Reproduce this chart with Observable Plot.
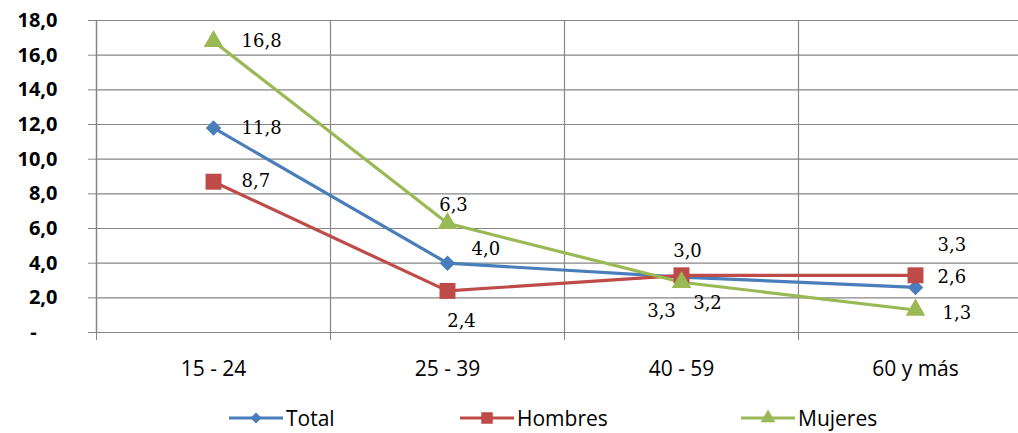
<!DOCTYPE html>
<html>
<head>
<meta charset="utf-8">
<script src="https://cdn.jsdelivr.net/npm/d3@7"></script>
<script src="https://cdn.jsdelivr.net/npm/@observablehq/plot@0.6"></script>
<style>
  body { margin: 0; background: #fff; width: 1018px; height: 433px; overflow: hidden; }
  #chart { position: relative; width: 1018px; height: 433px; }
  #legend { position: absolute; left: 0; top: 400px; width: 1018px; height: 33px; font-family: "Open Sans", sans-serif; font-size: 21px; color: #000; }
  .item { position: absolute; top: 4px; display: flex; align-items: center; }
  .item svg { margin-right: 3px; }
</style>
</head>
<body>
<div id="chart"></div>
<script>
const categories = ["15 - 24", "25 - 39", "40 - 59", "60 y más"];
const seriesNames = ["Total", "Hombres", "Mujeres"];
const totalValues = [11.8, 4.0, 3.2, 2.6];
const hombresValues = [8.7, 2.4, 3.3, 3.3];
const mujeresValues = [16.8, 6.3, 2.9, 1.3];
const mujeresLabels = ["16,8", "6,3", "3,0", "1,3"];
const yTicks = [0, 2, 4, 6, 8, 10, 12, 14, 16, 18];

const colors = {Total: "#4A7EBB", Hombres: "#BE4B48", Mujeres: "#98B954"};
const symbols = {Total: "diamond2", Hombres: "square", Mujeres: "triangle"};
const radii = {Total: 7, Hombres: 9, Mujeres: 7.3};
const legendRadii = {Total: 5, Hombres: 6.5, Mujeres: 5.5};

const fmt = v => v.toFixed(1).replace(".", ",");
const rows = [];
[totalValues, hombresValues, mujeresValues].forEach((vals, s) => {
  vals.forEach((v, i) => {
    const name = seriesNames[s];
    const label = name === "Mujeres" ? mujeresLabels[i] : fmt(v);
    rows.push({series: name, cat: i + 0.5, value: v, label});
  });
});

// label placement (Excel-like)
const place = {
  "Total|0": {dx: 28, dy: 0, anchor: "start"},
  "Hombres|0": {dx: 28, dy: 0, anchor: "start"},
  "Mujeres|0": {dx: 28, dy: 0, anchor: "start"},
  "Total|1": {dx: 24, dy: -14, anchor: "start"},
  "Hombres|1": {dx: 14, dy: 30, anchor: "middle"},
  "Mujeres|1": {dx: 6, dy: -18, anchor: "middle"},
  "Total|2": {dx: 26, dy: 26, anchor: "middle"},
  "Hombres|2": {dx: -20, dy: 36, anchor: "middle"},
  "Mujeres|2": {dx: 6, dy: -31, anchor: "middle"},
  "Total|3": {dx: 22, dy: -10, anchor: "start"},
  "Hombres|3": {dx: 22, dy: -30, anchor: "start"},
  "Mujeres|3": {dx: 27, dy: 3, anchor: "start"}
};

const labelFont = "DejaVu Serif";
const axisFont = "Open Sans, sans-serif";
const grid = "#868686";

const labelMarks = Object.keys(place).map(key => {
  const [s, i] = key.split("|");
  const p = place[key];
  return Plot.text(rows.filter(r => r.series === s && r.cat === +i + 0.5), {
    x: "cat", y: "value", text: "label", dx: p.dx, dy: p.dy, textAnchor: p.anchor,
    fontSize: 18, fontFamily: labelFont, fill: "#000"
  });
});

const plot = Plot.plot({
  width: 1018,
  height: 400,
  marginLeft: 96,
  marginRight: 0,
  marginTop: 20,
  marginBottom: 68,
  style: {background: "transparent", overflow: "visible"},
  x: {domain: [0, 4], range: [96, 1032]},
  y: {domain: [0, 18], range: [332, 20]},
  marks: [
    Plot.ruleY(yTicks, {stroke: grid, strokeWidth: 1.2}),
    Plot.ruleX([1, 2, 3, 4], {stroke: grid, strokeWidth: 1.2, y1: 0, y2: 18}),
    Plot.ruleX([0], {stroke: grid, strokeWidth: 1.5, y1: 0, y2: 18}),
    Plot.axisY({ticks: yTicks, tickSize: 8, tickPadding: 31, stroke: grid,
      tickFormat: v => v === 0 ? "-\u00a0\u00a0\u00a0\u00a0" : fmt(v),
      fontSize: 20, fontWeight: "bold", fontFamily: axisFont, fill: "#000", label: null}),
    Plot.axisX({ticks: [0, 1, 2, 3, 4], tickSize: 8, stroke: grid, tickFormat: () => "", label: null}),
    Plot.axisX({ticks: [0.5, 1.5, 2.5, 3.5], tickSize: 0, tickPadding: 29,
      tickFormat: v => categories[Math.round(v - 0.5)],
      fontSize: 21, fontFamily: axisFont, fill: "#000", label: null}),
    Plot.line(rows, {x: "cat", y: "value", z: "series", stroke: d => colors[d.series], strokeWidth: 3.2}),
    ...seriesNames.map(s => Plot.dot(rows.filter(r => r.series === s), {
      x: "cat", y: "value", symbol: () => symbols[s], r: radii[s], fill: colors[s], stroke: "none"
    })),
    ...labelMarks
  ]
});
document.getElementById("chart").appendChild(plot);

// legend
const legend = document.createElement("div");
legend.id = "legend";
const lefts = {Total: 229, Hombres: 460, Mujeres: 741};
seriesNames.forEach(s => {
  const item = document.createElement("div");
  item.className = "item";
  item.style.left = lefts[s] + "px";
  const sw = d3.create("svg").attr("width", 54).attr("height", 20);
  sw.append("line").attr("x1", 0).attr("x2", 54).attr("y1", 10).attr("y2", 10)
    .attr("stroke", colors[s]).attr("stroke-width", 3.2);
  const sym = {diamond2: d3.symbolDiamond2, square: d3.symbolSquare, triangle: d3.symbolTriangle}[symbols[s]];
  sw.append("path").attr("transform", "translate(27,10)")
    .attr("d", d3.symbol(sym, Math.PI * legendRadii[s] * legendRadii[s])()).attr("fill", colors[s]);
  item.appendChild(sw.node());
  const t = document.createElement("span");
  t.textContent = s;
  item.appendChild(t);
  legend.appendChild(item);
});
document.getElementById("chart").appendChild(legend);
</script>
</body>
</html>
